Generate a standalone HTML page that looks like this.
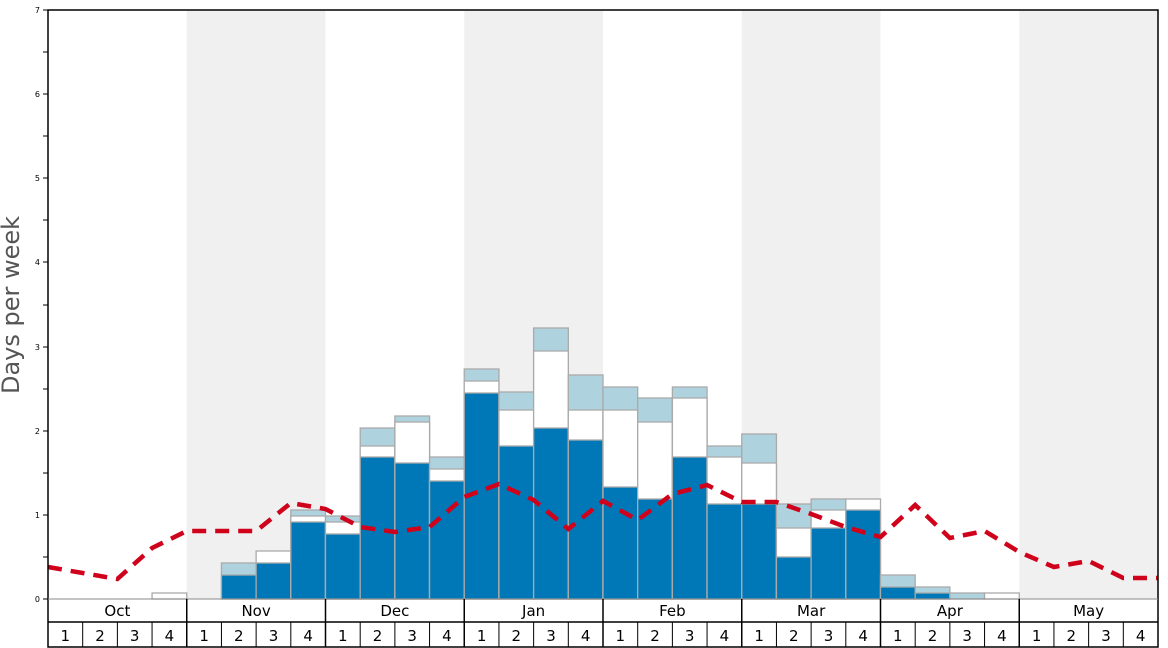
<!DOCTYPE html>
<html><head><meta charset="utf-8"><style>
html,body{margin:0;padding:0;background:#fff;}
svg{display:block;font-family:"DejaVu Sans","Liberation Sans",sans-serif;}
</style></head><body>
<svg width="1168" height="648" viewBox="0 0 1168 648" xmlns="http://www.w3.org/2000/svg">
<rect x="186.75" y="10" width="138.75" height="589" fill="#f0f0f0"/>
<rect x="464.25" y="10" width="138.75" height="589" fill="#f0f0f0"/>
<rect x="741.75" y="10" width="138.75" height="589" fill="#f0f0f0"/>
<rect x="1019.25" y="10" width="138.75" height="589" fill="#f0f0f0"/>
<g stroke="#aaa" stroke-width="1.3">
<rect x="152.06" y="593" width="34.69" height="6" fill="#fff"/>
<rect x="221.44" y="563" width="34.69" height="36" fill="#aed3df"/>
<rect x="221.44" y="575" width="34.69" height="24" fill="#0077b6"/>
<rect x="256.13" y="551" width="34.69" height="48" fill="#fff"/>
<rect x="256.13" y="563" width="34.69" height="36" fill="#0077b6"/>
<rect x="290.81" y="510" width="34.69" height="89" fill="#aed3df"/>
<rect x="290.81" y="516" width="34.69" height="83" fill="#fff"/>
<rect x="290.81" y="522" width="34.69" height="77" fill="#0077b6"/>
<rect x="325.5" y="516" width="34.69" height="83" fill="#aed3df"/>
<rect x="325.5" y="522" width="34.69" height="77" fill="#fff"/>
<rect x="325.5" y="534" width="34.69" height="65" fill="#0077b6"/>
<rect x="360.19" y="428" width="34.69" height="171" fill="#aed3df"/>
<rect x="360.19" y="446" width="34.69" height="153" fill="#fff"/>
<rect x="360.19" y="457" width="34.69" height="142" fill="#0077b6"/>
<rect x="394.88" y="416" width="34.69" height="183" fill="#aed3df"/>
<rect x="394.88" y="422" width="34.69" height="177" fill="#fff"/>
<rect x="394.88" y="463" width="34.69" height="136" fill="#0077b6"/>
<rect x="429.56" y="457" width="34.69" height="142" fill="#aed3df"/>
<rect x="429.56" y="469" width="34.69" height="130" fill="#fff"/>
<rect x="429.56" y="481" width="34.69" height="118" fill="#0077b6"/>
<rect x="464.25" y="369" width="34.69" height="230" fill="#aed3df"/>
<rect x="464.25" y="381" width="34.69" height="218" fill="#fff"/>
<rect x="464.25" y="393" width="34.69" height="206" fill="#0077b6"/>
<rect x="498.94" y="392" width="34.69" height="207" fill="#aed3df"/>
<rect x="498.94" y="410" width="34.69" height="189" fill="#fff"/>
<rect x="498.94" y="446" width="34.69" height="153" fill="#0077b6"/>
<rect x="533.63" y="328" width="34.69" height="271" fill="#aed3df"/>
<rect x="533.63" y="351" width="34.69" height="248" fill="#fff"/>
<rect x="533.63" y="428" width="34.69" height="171" fill="#0077b6"/>
<rect x="568.31" y="375" width="34.69" height="224" fill="#aed3df"/>
<rect x="568.31" y="410" width="34.69" height="189" fill="#fff"/>
<rect x="568.31" y="440" width="34.69" height="159" fill="#0077b6"/>
<rect x="603" y="387" width="34.69" height="212" fill="#aed3df"/>
<rect x="603" y="410" width="34.69" height="189" fill="#fff"/>
<rect x="603" y="487" width="34.69" height="112" fill="#0077b6"/>
<rect x="637.69" y="398" width="34.69" height="201" fill="#aed3df"/>
<rect x="637.69" y="422" width="34.69" height="177" fill="#fff"/>
<rect x="637.69" y="499" width="34.69" height="100" fill="#0077b6"/>
<rect x="672.38" y="387" width="34.69" height="212" fill="#aed3df"/>
<rect x="672.38" y="398" width="34.69" height="201" fill="#fff"/>
<rect x="672.38" y="457" width="34.69" height="142" fill="#0077b6"/>
<rect x="707.06" y="446" width="34.69" height="153" fill="#aed3df"/>
<rect x="707.06" y="457" width="34.69" height="142" fill="#fff"/>
<rect x="707.06" y="504" width="34.69" height="95" fill="#0077b6"/>
<rect x="741.75" y="434" width="34.69" height="165" fill="#aed3df"/>
<rect x="741.75" y="463" width="34.69" height="136" fill="#fff"/>
<rect x="741.75" y="504" width="34.69" height="95" fill="#0077b6"/>
<rect x="776.44" y="504" width="34.69" height="95" fill="#aed3df"/>
<rect x="776.44" y="528" width="34.69" height="71" fill="#fff"/>
<rect x="776.44" y="557" width="34.69" height="42" fill="#0077b6"/>
<rect x="811.13" y="499" width="34.69" height="100" fill="#aed3df"/>
<rect x="811.13" y="510" width="34.69" height="89" fill="#fff"/>
<rect x="811.13" y="528" width="34.69" height="71" fill="#0077b6"/>
<rect x="845.81" y="499" width="34.69" height="100" fill="#fff"/>
<rect x="845.81" y="510" width="34.69" height="89" fill="#0077b6"/>
<rect x="880.5" y="575" width="34.69" height="24" fill="#aed3df"/>
<rect x="880.5" y="587" width="34.69" height="12" fill="#0077b6"/>
<rect x="915.19" y="587" width="34.69" height="12" fill="#aed3df"/>
<rect x="915.19" y="593" width="34.69" height="6" fill="#0077b6"/>
<rect x="949.88" y="593" width="34.69" height="6" fill="#aed3df"/>
<rect x="984.56" y="593" width="34.69" height="6" fill="#fff"/>
</g>
<polyline fill="none" stroke="#d0021b" stroke-width="4.5" stroke-dasharray="14,9"
points="48,567 82.69,573 117.38,579 152.06,548 186.75,531 221.44,531 256.13,531 290.81,503 325.5,509 360.19,527 394.88,532 429.56,527 464.25,497 498.94,484 533.63,500 568.31,529 603,501 637.69,520 672.38,494 707.06,485 741.75,502 776.44,502 811.13,514 845.81,527 880.5,537 915.19,505 949.88,538 984.56,531 1019.25,552 1053.94,567 1088.63,561 1123.31,578 1158,578"/>
<rect x="48" y="10" width="1110" height="637" fill="none" stroke="#000" stroke-width="1.5"/>
<line x1="48" y1="599" x2="1158" y2="599" stroke="#888" stroke-width="1"/>
<line x1="48" y1="622" x2="1158" y2="622" stroke="#000" stroke-width="1.5"/>
<path stroke="#000" stroke-width="1.5" d="M186.75 599V647M325.5 599V647M464.25 599V647M603 599V647M741.75 599V647M880.5 599V647M1019.25 599V647"/>
<path stroke="#000" stroke-width="1" d="M82.69 622V647M117.38 622V647M152.06 622V647M221.44 622V647M256.13 622V647M290.81 622V647M360.19 622V647M394.88 622V647M429.56 622V647M498.94 622V647M533.63 622V647M568.31 622V647M637.69 622V647M672.38 622V647M707.06 622V647M776.44 622V647M811.13 622V647M845.81 622V647M915.19 622V647M949.88 622V647M984.56 622V647M1053.94 622V647M1088.63 622V647M1123.31 622V647"/>
<path stroke="#000" stroke-width="1" d="M43 599H48M43 557H48M43 515H48M43 473H48M43 431H48M43 389H48M43 347H48M43 305H48M43 262H48M43 220H48M43 178H48M43 136H48M43 94H48M43 52H48M43 10H48"/>
<g font-size="8" text-anchor="end" fill="#000">
<text x="40" y="602">0</text><text x="40" y="518">1</text><text x="40" y="434">2</text>
<text x="40" y="350">3</text><text x="40" y="265">4</text><text x="40" y="181">5</text>
<text x="40" y="97">6</text><text x="40" y="13">7</text>
</g>
<text transform="translate(19,305) rotate(-90)" text-anchor="middle" font-size="24" fill="#555">Days per week</text>
<g font-size="15" text-anchor="middle" fill="#000">
<text x="117.4" y="616">Oct</text><text x="256.1" y="616">Nov</text><text x="394.9" y="616">Dec</text>
<text x="533.6" y="616">Jan</text><text x="672.4" y="616">Feb</text><text x="811.1" y="616">Mar</text>
<text x="949.9" y="616">Apr</text><text x="1088.6" y="616">May</text>
<text x="65.3" y="641">1</text><text x="100" y="641">2</text><text x="134.7" y="641">3</text><text x="169.4" y="641">4</text>
<text x="204.1" y="641">1</text><text x="238.8" y="641">2</text><text x="273.5" y="641">3</text><text x="308.2" y="641">4</text>
<text x="342.8" y="641">1</text><text x="377.5" y="641">2</text><text x="412.2" y="641">3</text><text x="446.9" y="641">4</text>
<text x="481.6" y="641">1</text><text x="516.3" y="641">2</text><text x="551" y="641">3</text><text x="585.7" y="641">4</text>
<text x="620.3" y="641">1</text><text x="655" y="641">2</text><text x="689.7" y="641">3</text><text x="724.4" y="641">4</text>
<text x="759.1" y="641">1</text><text x="793.8" y="641">2</text><text x="828.5" y="641">3</text><text x="863.2" y="641">4</text>
<text x="897.8" y="641">1</text><text x="932.5" y="641">2</text><text x="967.2" y="641">3</text><text x="1001.9" y="641">4</text>
<text x="1036.6" y="641">1</text><text x="1071.3" y="641">2</text><text x="1106" y="641">3</text><text x="1140.7" y="641">4</text>
</g>
</svg>
</body></html>
